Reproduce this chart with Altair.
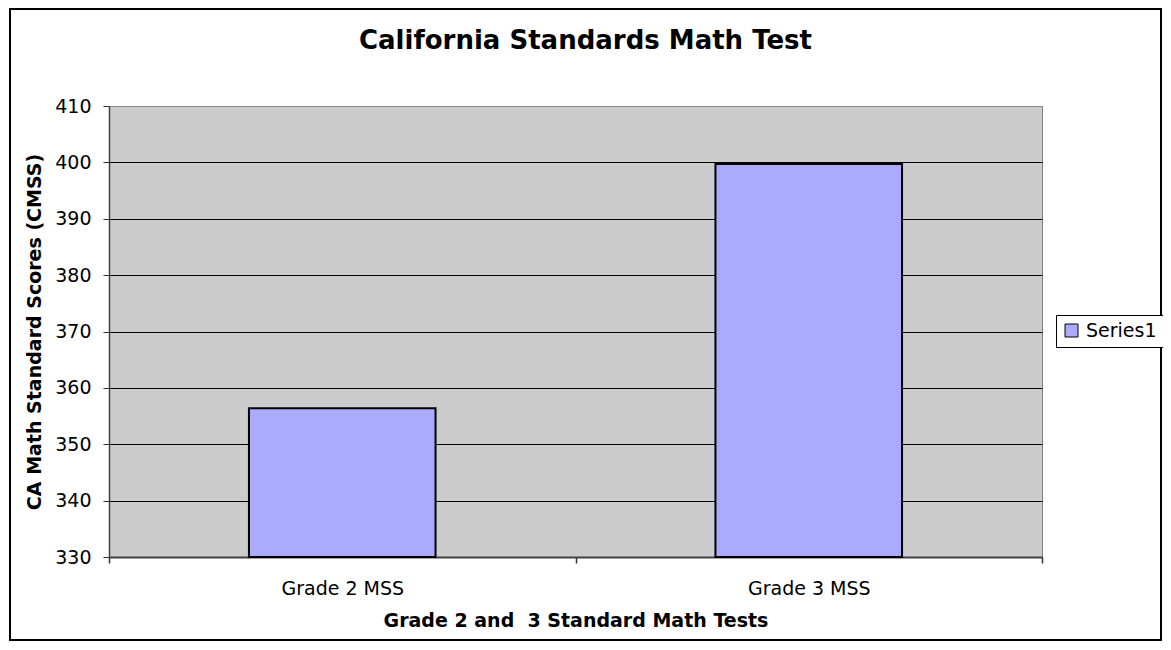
import altair as alt
import pandas as pd

categories = ["Grade 2 MSS", "Grade 3 MSS"]
scores = [356.4, 399.7]
series = ["Series1", "Series1"]
y_ticks = [330, 340, 350, 360, 370, 380, 390, 400, 410]

df = pd.DataFrame({"category": categories, "score": scores, "series": series})

FONT = "DejaVu Sans"

bars = alt.Chart(df).mark_bar(
    width=alt.RelativeBandSize(0.4), stroke="black", strokeWidth=2
).encode(
    x=alt.X(
        "category:N",
        sort=categories,
        scale=alt.Scale(paddingInner=0, paddingOuter=0),
        axis=alt.Axis(
            title="Grade 2 and\u00a0 3 Standard Math Tests",
            labelAngle=0,
            tickBand="extent",
            tickSize=6,
            tickColor="#333333",
            tickWidth=1.5,
            labelPadding=16,
            titlePadding=13,
            domainColor="#404040",
            domainWidth=2,
        ),
    ),
    y=alt.Y(
        "score:Q",
        scale=alt.Scale(domain=[330, 410], nice=False, zero=False),
        axis=alt.Axis(
            values=y_ticks,
            title="CA Math Standard Scores (CMSS)",
            grid=True,
            gridColor=alt.condition("datum.value >= 410", alt.value("#888888"), alt.value("#000000")),
            gridWidth=1,
            tickSize=6,
            tickColor="#333333",
            labelPadding=12,
            titlePadding=10,
            domainColor="#404040",
            domainWidth=1.5,
        ),
    ),
    y2=alt.datum(330),
    color=alt.Color(
        "series:N",
        scale=alt.Scale(range=["#AAAAFF"]),
        legend=alt.Legend(
            title=None,
            orient="none",
            legendX=947,
            legendY=209,
            strokeColor="black",
            fillColor="white",
            padding=6,
            symbolType="square",
            symbolSize=169,
            symbolStrokeColor="black",
            symbolStrokeWidth=1,
            symbolOpacity=1,
            labelFontSize=19,
            labelFont=FONT,
            labelColor="black",
            labelOffset=5,
        ),
    ),
)

frame = alt.Chart(alt.Data(values=[{}])).mark_rect(
    fillOpacity=0, stroke="black", strokeWidth=2
).encode(
    x=alt.value(-99), x2=alt.value(1052), y=alt.value(-97), y2=alt.value(534)
)

chart = alt.layer(bars, frame).properties(
    width=933,
    height=451,
    title=alt.TitleParams(
        "California Standards Math Test",
        font=FONT,
        fontSize=26,
        fontWeight="bold",
        color="black",
        anchor="middle",
        baseline="alphabetic",
        dx=10,
        offset=-67,
    ),
    autosize=alt.AutoSizeParams(type="none"),
    padding={"left": 101, "top": 98, "right": 121, "bottom": 85},
).configure_view(
    fill="#CCCCCC", stroke="#808080", strokeWidth=1
).configure_axis(
    labelFont=FONT,
    labelFontSize=19,
    labelColor="black",
    titleFont=FONT,
    titleFontSize=19,
    titleFontWeight="bold",
    titleColor="black",
)

chart.save("out.html", embed_options={"renderer": "svg", "actions": False})
